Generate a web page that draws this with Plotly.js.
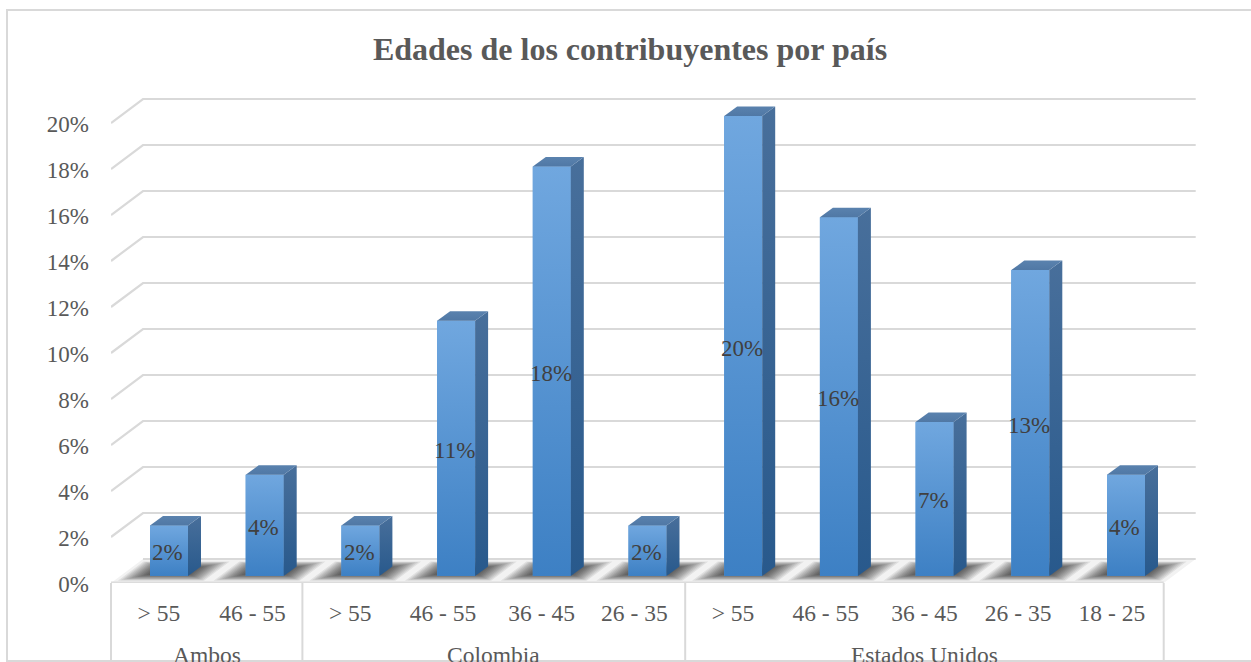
<!DOCTYPE html>
<html><head><meta charset="utf-8">
<script src="https://cdn.plot.ly/plotly-3.0.1.min.js"></script>
<style>html,body{margin:0;padding:0;background:#fff;overflow:hidden}</style>
</head><body><div id="chart" style="width:1251px;height:662px"></div>
<script>
const countries = ["Ambos","Ambos","Colombia","Colombia","Colombia","Colombia","Estados Unidos","Estados Unidos","Estados Unidos","Estados Unidos","Estados Unidos"];
const ages = ["> 55","46 - 55","> 55","46 - 55","36 - 45","26 - 35","> 55","46 - 55","36 - 45","26 - 35","18 - 25"];
const values = [2.2,4.4,2.2,11.1,17.8,2.2,20,15.6,6.7,13.3,4.4];
const yTicks = [0,2,4,6,8,10,12,14,16,18,20];

const W=1251,H=662,L=111,R=1198,B=583,T=90;
const pxX=95.7, pxY=23;
const xMax=(R-L)/pxX-0.5, yMax=(B-T)/pxY;
const gx=32/pxX, gy=24/pxY;        // wall depth
const bx=13/pxX, by=9.5/pxY;       // bar depth
const bw=38/pxX, bo=-8.85/pxX;     // bar width / offset from slot centre
const base=7/pxY;                  // bar base above the front floor edge
const idx=values.map((v,i)=>i);
const tickNudge=[0,-2,0,-3,0,-3,0,-3,0,-2,-4].map(p=>p/pxX); // label placement quirks of the original
const px=p=>(p-L)/(R-L), py=p=>(B-p)/(B-T);

const traces=[];
traces.push({type:'bar',x:idx,y:values,base:values.map(()=>base),width:values.map(()=>bw),
  offset:values.map(()=>bo),marker:{color:'#5594d4',line:{width:0}},hoverinfo:'skip',showlegend:false});

function face(xs,ys,c0,c1){
  traces.push({type:'scatter',x:xs.concat(xs[0]),y:ys.concat(ys[0]),mode:'lines',
    line:{width:0},fill:'toself',
    fillgradient:{type:'vertical',colorscale:[[0,c0],[1,c1]]},
    hoverinfo:'skip',showlegend:false});
}
values.forEach((v,i)=>{
  const x0=i+bo,x1=x0+bw,y0=base,y1=base+v;
  face([x0,x1,x1,x0],[y0,y0,y1,y1],'#3d80c4','#70a7df');
  face([x1,x1+bx,x1+bx,x1],[y0,y0+by,y1+by,y1],'#28598c','#486f9b');
  face([x0,x1,x1+bx,x0+bx],[y1,y1,y1+by,y1+by],'#5078a5','#5a82ae');
});

const shapes=[];
const grid={color:'#d9d9d9',width:2.2};
shapes.push({type:'path',xref:'x',yref:'y',layer:'below',
  path:`M -0.5 0 L 10.5 0 L ${10.5+gx} ${gy} L ${-0.5+gx} ${gy} Z`,fillcolor:'#f2f2f2',line:{width:0}});
yTicks.forEach(t=>{
  const p=t===0?`M ${-0.5+gx} ${gy} L ${10.5+gx} ${gy}`:`M -0.5 ${t} L ${-0.5+gx} ${t+gy} L ${10.5+gx} ${t+gy}`;
  shapes.push({type:'path',xref:'x',yref:'y',layer:'below',path:p,line:grid});
});
// soft floor shadows: stacked translucent parallelograms
const nL=14;
values.forEach((v,i)=>{
  const cx=i+bo+bw/2+0.05, cy=0.52;
  for(let k=0;k<nL;k++){
    const f=k/(nL-1), hw=0.45-0.28*f, hh=0.42-0.32*f, s=hh*(gx/gy);
    shapes.push({type:'path',xref:'x',yref:'y',layer:'below',
      path:`M ${cx-hw-s} ${cy-hh} L ${cx+hw-s} ${cy-hh} L ${cx+hw+s} ${cy+hh} L ${cx-hw+s} ${cy+hh} Z`,
      fillcolor:'#000',opacity:0.075,line:{width:0}});
  }
});
// front floor edge
shapes.push({type:'line',xref:'x',yref:'y',x0:-0.5,x1:10.5,y0:0,y1:0,line:{color:'#dcdcdc',width:3}});
// group dividers
const dividers=[-0.5];
countries.forEach((c,i)=>{ if(i===countries.length-1||countries[i+1]!==c) dividers.push(i+0.5); });
dividers.forEach(d=>shapes.push({type:'line',xref:'paper',yref:'paper',x0:px(L+(d+0.5)*pxX),x1:px(L+(d+0.5)*pxX),
  y0:py(583),y1:py(662),line:{color:'#d9d9d9',width:2}}));
// chart frame
shapes.push({type:'path',xref:'paper',yref:'paper',
  path:`M ${px(W)} ${py(10)} L ${px(7)} ${py(10)} L ${px(7)} ${py(661)} L ${px(W)} ${py(661)}`,
  line:{color:'#d9d9d9',width:2}});

const annotations=values.map((v,i)=>({xref:'x',yref:'y',x:i,xshift:9,yshift:-2,y:base+v/2,text:Math.round(v)+'%',
  showarrow:false,font:{family:'Liberation Serif',size:23,color:'#404040'}}));
[...new Set(countries)].forEach(c=>{
  const a=countries.indexOf(c), b=countries.lastIndexOf(c);
  annotations.push({xref:'x',yref:'paper',x:(a+b)/2,y:py(655),yanchor:'middle',text:c,showarrow:false,
    font:{family:'Liberation Serif',size:23.5,color:'#595959'}});
});

const layout={width:W,height:H,paper_bgcolor:'#fff',plot_bgcolor:'rgba(0,0,0,0)',
  margin:{l:L,r:W-R,t:T,b:H-B,pad:0},showlegend:false,
  title:{text:'<b>Edades de los contribuyentes por país</b>',x:630/W,xanchor:'center',y:1-49/H,yanchor:'middle',
    font:{family:'Liberation Serif',size:32,color:'#595959'}},
  xaxis:{type:'linear',range:[-0.5,xMax],tickvals:idx.map(i=>i+tickNudge[i]),ticktext:ages,showgrid:false,zeroline:false,showline:false,ticks:'',
    ticklabelstandoff:13,tickangle:0,tickfont:{family:'Liberation Serif',size:23.5,color:'#595959'}},
  yaxis:{range:[0,yMax],tickvals:yTicks,ticktext:yTicks.map(t=>t+'%'),showgrid:false,zeroline:false,showline:false,
    ticks:'',ticklabelstandoff:21,ticklabelshift:1,tickfont:{family:'Liberation Serif',size:23,color:'#595959'}},
  shapes,annotations};
Plotly.newPlot('chart',traces,layout,{displayModeBar:false,responsive:false});
</script></body></html>
